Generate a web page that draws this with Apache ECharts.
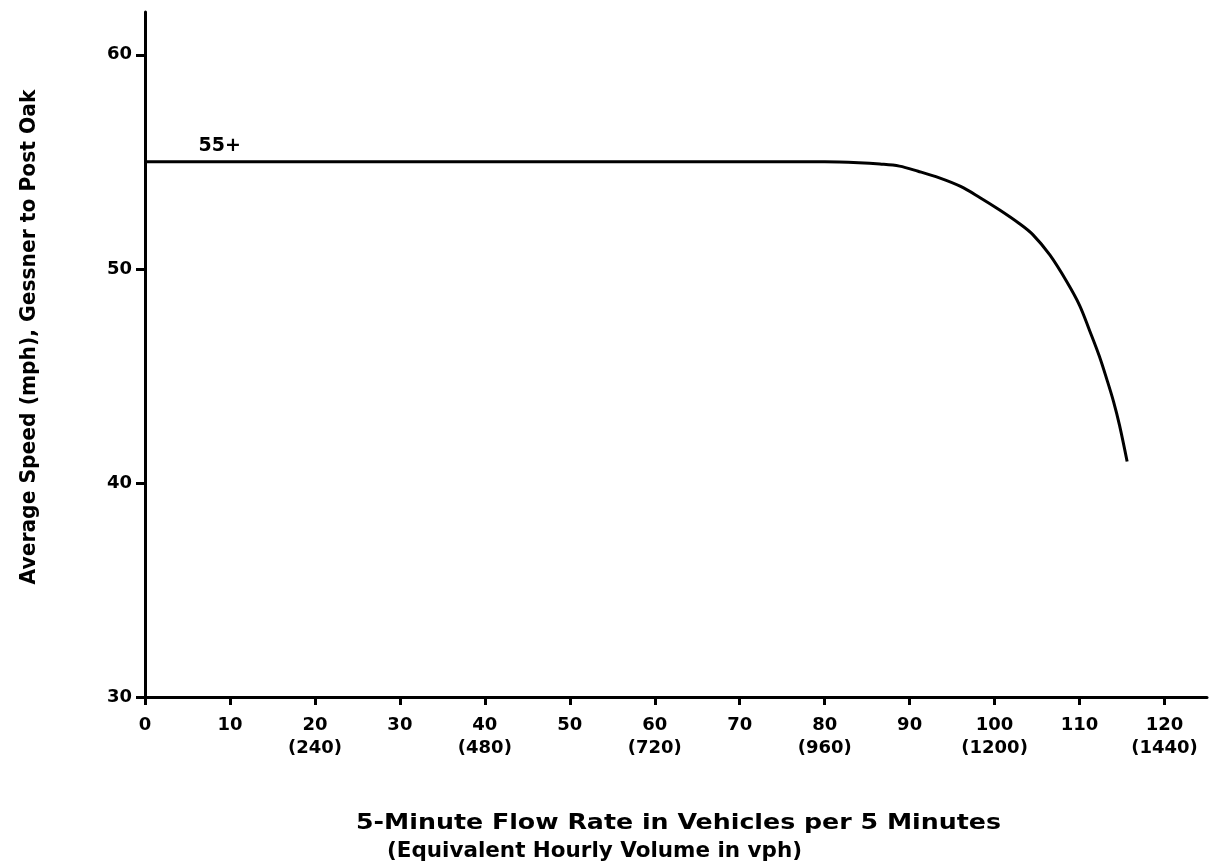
<!DOCTYPE html>
<html>
<head>
<meta charset="utf-8">
<script src="https://cdn.jsdelivr.net/npm/echarts@6/dist/echarts.min.js"></script>
<style>html,body{margin:0;padding:0;background:#fff;}#c{width:1212px;height:865px;}</style>
</head>
<body>
<div id="c"></div>
<script>
// Data
var flowRate = [0, 80, 84, 86.5, 88.8, 91, 93.5, 96, 98.2, 100.6, 102.9, 104.5, 106.5, 108.5, 110, 111.2, 112.3, 113.2, 114, 114.7, 115.6];
var avgSpeed = [55, 55, 54.96, 54.9, 54.8, 54.56, 54.25, 53.85, 53.35, 52.75, 52.12, 51.6, 50.65, 49.4, 48.3, 47.1, 45.95, 44.85, 43.8, 42.7, 41.0];
var xTicks = [0, 10, 20, 30, 40, 50, 60, 70, 80, 90, 100, 110, 120];
var yTicks = [30, 40, 50, 60];
var yName = 'Average Speed (mph), Gessner to Post Oak';
var xName1 = '5-Minute Flow Rate in Vehicles per 5 Minutes';
var xName2 = '(Equivalent Hourly Volume in vph)';
var noteText = '55+';
var noteAt = [8.8, 55];

var pts = flowRate.map(function (x, i) { return [x, avgSpeed[i]]; });
var font = 'DejaVu Sans';
var titleFont = 'bold 21px "DejaVu Sans"';
var cv = document.createElement('canvas').getContext('2d');
cv.font = titleFont;
function fitScale(text, target) { return target / cv.measureText(text).width; }

var chart = echarts.init(document.getElementById('c'));
chart.setOption({
  animation: false,
  backgroundColor: '#fff',
  grid: { left: 145, right: 5, top: 12, bottom: 168, containLabel: false },
  xAxis: {
    type: 'value', min: 0, max: 125,
    splitLine: { show: false },
    axisLine: { show: true, lineStyle: { color: '#000', width: 3 } },
    axisTick: { show: true, length: 8, lineStyle: { color: '#000', width: 3 }, customValues: xTicks },
    axisLabel: {
      customValues: xTicks, margin: 17, color: '#000', fontFamily: font, fontWeight: 'bold', fontSize: 18, lineHeight: 23,
      formatter: function (v) { return (v > 0 && v % 20 === 0) ? v + '\n(' + (v * 12) + ')' : String(v); }
    }
  },
  yAxis: {
    type: 'value', min: 30, max: 62,
    splitLine: { show: false },
    axisLine: { show: true, lineStyle: { color: '#000', width: 3 } },
    axisTick: { show: true, length: 9, lineStyle: { color: '#000', width: 3 }, customValues: yTicks },
    axisLabel: { customValues: yTicks, margin: 13, color: '#000', fontFamily: font, fontWeight: 'bold', fontSize: 18 }
  },
  graphic: [
    { type: 'text', x: 30, y: 337, rotation: Math.PI / 2, scaleX: fitScale(yName, 495),
      style: { text: yName, fill: '#000', font: titleFont, textAlign: 'center', textVerticalAlign: 'middle' } },
    { type: 'text', x: 356, y: 813, scaleX: fitScale(xName1, 645),
      style: { text: xName1, fill: '#000', font: titleFont, textVerticalAlign: 'top' } },
    { type: 'text', x: 387, y: 841, scaleX: fitScale(xName2, 415),
      style: { text: xName2, fill: '#000', font: titleFont, textVerticalAlign: 'top' } }
  ],
  series: [{
    type: 'line', data: pts, smooth: 0.35, showSymbol: false,
    lineStyle: { color: '#000', width: 3 },
    markPoint: {
      symbol: 'circle', symbolSize: 0,
      label: { show: true, position: 'top', distance: 6, color: '#000', fontFamily: font, fontWeight: 'bold', fontSize: 19, formatter: noteText },
      data: [{ coord: noteAt }]
    }
  }]
});
</script>
</body>
</html>
